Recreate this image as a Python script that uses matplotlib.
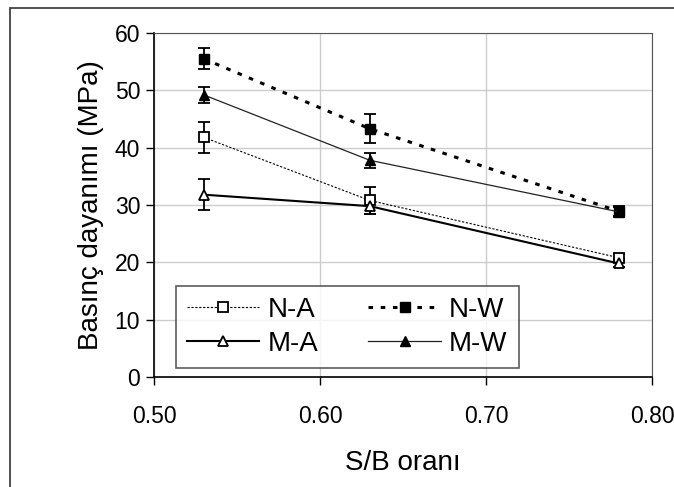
import matplotlib.pyplot as plt
from matplotlib.patches import Rectangle
from matplotlib.lines import Line2D

plt.rcParams['font.family'] = ['Liberation Sans', 'DejaVu Sans']

# S/B oranı
sb = [0.53, 0.63, 0.78]

na = [41.8, 30.8, 20.8]
na_err = [2.7, 2.4, 0.6]
nw = [55.5, 43.3, 28.9]
nw_err = [1.8, 2.5, 1.0]
ma = [31.8, 29.8, 19.8]
ma_err = [2.7, 1.3, 0.7]
mw = [49.2, 37.8, 28.8]
mw_err = [1.4, 1.3, 0.8]

xticks = [0.50, 0.60, 0.70, 0.80]
yticks = [0, 10, 20, 30, 40, 50, 60]

fig = plt.figure(figsize=(6.74, 4.87), dpi=100)
ax = fig.add_axes([154 / 674, 1 - 377 / 487, 498 / 674, 344 / 487])

# outer frame
fig.patches.append(Rectangle((10 / 674, -0.1), 1.2, 1 - 8 / 487 + 0.1, transform=fig.transFigure,
                             fill=False, edgecolor='#333333', lw=1.2))

styles = {
    'N-A': dict(color='black', lw=0.8, dashes=(2, 1.5), marker='s', ms=7, mfc='white', mec='black', mew=1.3),
    'N-W': dict(color='black', lw=2.2, dashes=(1.5, 2.5), marker='s', ms=7, mfc='black', mec='black'),
    'M-A': dict(color='black', lw=1.5, ls='-', marker='^', ms=7, mfc='white', mec='black', mew=1.3),
    'M-W': dict(color='#222222', lw=0.9, ls='-', marker='^', ms=7, mfc='black', mec='black'),
}
ebkw = dict(ecolor='black', elinewidth=1.3, capsize=4, capthick=1.3)
for name, y, e in [('N-A', na, na_err), ('N-W', nw, nw_err), ('M-A', ma, ma_err), ('M-W', mw, mw_err)]:
    ax.errorbar(sb, y, yerr=e, **styles[name], **ebkw)

ax.set_xlim(0.50, 0.80)
ax.set_ylim(0, 60)
ax.set_xticks(xticks)
ax.set_xticklabels([f'{t:.2f}' for t in xticks])
ax.set_yticks(yticks)
ax.tick_params(labelsize=16.5, direction='out', length=6, width=1, pad=4)
ax.tick_params(axis='x', pad=14)
ax.grid(True, color='#cccccc', lw=1)
ax.set_axisbelow(True)
for s in ['top', 'right']:
    ax.spines[s].set_color('#555555')
for s in ['left', 'bottom']:
    ax.spines[s].set_linewidth(1.2)

ax.set_xlabel('S/B oranı', fontsize=20, labelpad=16)
ax.set_ylabel('Basınç dayanımı (MPa)', fontsize=20, labelpad=8)

# legend fills column-wise, so order N-A, M-A, N-W, M-W
order = ['N-A', 'M-A', 'N-W', 'M-W']
handles = [Line2D([], [], **styles[n]) for n in order]
leg = ax.legend(handles, order, ncol=2, loc='lower left', bbox_to_anchor=(0.0442, 0.026),
                fontsize=20, frameon=True, fancybox=False, edgecolor='#333333',
                handlelength=2.6, handletextpad=0.3, columnspacing=1.8, borderpad=0.4,
                labelspacing=0.3, borderaxespad=0)
leg.get_frame().set_linewidth(1.2)

fig.savefig('out.png', dpi=100, facecolor='white')
